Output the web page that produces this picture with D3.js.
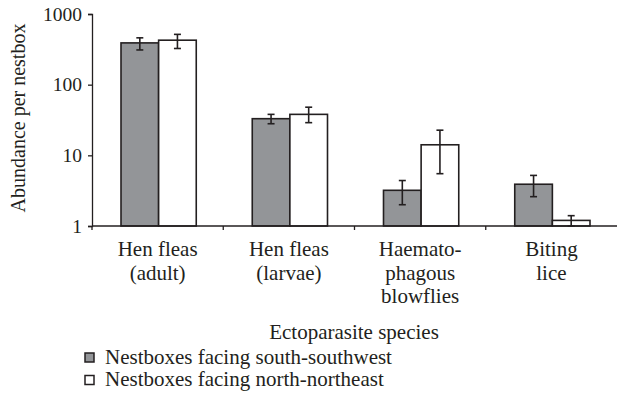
<!DOCTYPE html>
<html>
<head>
<meta charset="utf-8">
<script src="https://cdn.jsdelivr.net/npm/d3@7"></script>
<style>
  body { margin: 0; background: #fff; }
  svg text { font-family: "Liberation Serif", "DejaVu Serif", serif; fill: #231f20; }
</style>
</head>
<body>
<script>
// ectoparasite abundance by nestbox orientation
var categories = [["Hen fleas", "(adult)"], ["Hen fleas", "(larvae)"], ["Haemato-", "phagous", "blowflies"], ["Biting", "lice"]];
var seriesNames = ["Nestboxes facing south-southwest", "Nestboxes facing north-northeast"];
var ssw = [390, 33, 3.2, 3.9];
var sswLow = [310, 28, 2.0, 2.6];
var sswHigh = [460, 38, 4.4, 5.2];
var nne = [426, 38, 14.1, 1.2];
var nneLow = [325, 29, 5.5, 1.0];
var nneHigh = [515, 48, 22.7, 1.4];
var yTicks = [1, 10, 100, 1000];
var colors = ["#939598", "#ffffff"];

var width = 617, height = 404;
var margin = {top: 14, right: 0, bottom: 178, left: 92};
var innerW = width - margin.left - margin.right,
    innerH = height - margin.top - margin.bottom;

var svg = d3.select("body").append("svg")
    .attr("width", width).attr("height", height);
var g = svg.append("g")
    .attr("transform", "translate(" + margin.left + "," + margin.top + ")");

var x = d3.scaleBand().domain(d3.range(categories.length)).range([0, innerW]).paddingInner(0).paddingOuter(0);
var x1 = d3.scaleBand().domain([0, 1]).range([29, x.bandwidth() - 27]);
var y = d3.scaleLog().domain([1, 1000]).range([innerH, 0]);

var series = [
  {vals: ssw, lo: sswLow, hi: sswHigh},
  {vals: nne, lo: nneLow, hi: nneHigh}
];

// bars
series.forEach(function(s, si){
  g.append("g").selectAll("rect").data(s.vals).enter().append("rect")
    .attr("x", function(d, i){ return x(i) + x1(si); })
    .attr("y", function(d){ return y(d); })
    .attr("width", x1.bandwidth())
    .attr("height", function(d){ return innerH - y(d); })
    .attr("fill", colors[si])
    .attr("stroke", "#231f20").attr("stroke-width", 1.6);
});

// error bars
series.forEach(function(s, si){
  var eg = g.append("g").attr("stroke", "#231f20").attr("stroke-width", 1.6);
  s.vals.forEach(function(v, i){
    var cx = x(i) + x1(si) + x1.bandwidth() / 2;
    eg.append("line").attr("x1", cx).attr("x2", cx).attr("y1", y(s.lo[i])).attr("y2", y(s.hi[i]));
    eg.append("line").attr("x1", cx - 3.5).attr("x2", cx + 3.5).attr("y1", y(s.lo[i])).attr("y2", y(s.lo[i]));
    eg.append("line").attr("x1", cx - 3.5).attr("x2", cx + 3.5).attr("y1", y(s.hi[i])).attr("y2", y(s.hi[i]));
  });
});

// y axis
var yAxis = g.append("g").call(d3.axisLeft(y).tickValues(yTicks).tickFormat(d3.format("d")).tickSize(4).tickPadding(6));
yAxis.selectAll("text").style("font-size", "19.5px");
yAxis.selectAll("line, path").attr("stroke", "#231f20").attr("stroke-width", 1.3);

// x axis: ticks at category boundaries
var xAxisG = g.append("g").attr("transform", "translate(0," + innerH + ")");
xAxisG.append("line").attr("x1", 0).attr("x2", innerW).attr("stroke", "#231f20").attr("stroke-width", 1.3);
xAxisG.selectAll(".tk").data(d3.range(categories.length)).enter().append("line")
  .attr("x1", function(i){ return x(i); }).attr("x2", function(i){ return x(i); })
  .attr("y1", 0).attr("y2", 4).attr("stroke", "#231f20").attr("stroke-width", 1.3);

xAxisG.selectAll(".cat").data(categories).enter().append("text")
  .attr("text-anchor", "middle").style("font-size", "21px")
  .attr("transform", function(d, i){ return "translate(" + (x(i) + x.bandwidth() / 2) + ",30)"; })
  .each(function(d){
    var t = d3.select(this);
    d.forEach(function(line, li){
      t.append("tspan").attr("x", 0).attr("y", li * 23.5).text(line);
    });
  });

// axis titles
svg.append("text").attr("text-anchor", "middle").style("font-size", "20px")
  .attr("transform", "translate(25," + (margin.top + innerH / 2 - 2) + ") rotate(-90)")
  .text("Abundance per nestbox");
svg.append("text").attr("text-anchor", "middle").style("font-size", "21px")
  .attr("x", 354).attr("y", 339)
  .text("Ectoparasite species");

// legend
var legend = svg.append("g").attr("transform", "translate(85,353)");
seriesNames.forEach(function(name, i){
  legend.append("rect").attr("x", 0).attr("y", i * 22.5).attr("width", 9).attr("height", 9)
    .attr("fill", colors[i]).attr("stroke", "#231f20").attr("stroke-width", 1.5);
  legend.append("text").attr("x", 20).attr("y", i * 22.5 + 10.5).style("font-size", "21px").text(name);
});
</script>
</body>
</html>
